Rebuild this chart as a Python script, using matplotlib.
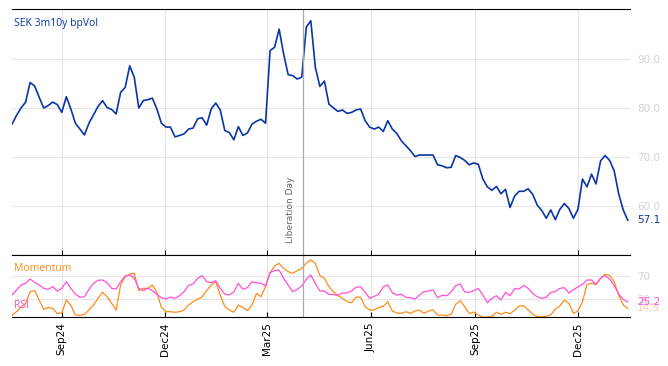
import pandas as pd
import matplotlib
matplotlib.use("Agg")
import matplotlib.pyplot as plt
import matplotlib.dates as mdates

# one reading every 4 days
dates = pd.date_range("2024-07-19", periods=137, freq="4D")

bpvol = [
    76.7, 78.5, 80.0, 81.2, 85.2, 84.5, 82.2, 80.0, 80.5, 81.2,
    80.7, 79.1, 82.3, 79.8, 76.9, 75.7, 74.5, 76.9, 78.6, 80.3,
    81.5, 80.1, 79.7, 78.8, 83.2, 84.2, 88.6, 86.3, 80.0, 81.5,
    81.7, 82.0, 79.8, 76.9, 76.1, 76.1, 74.1, 74.4, 74.7, 75.7,
    75.9, 77.8, 78.0, 76.5, 79.8, 81.0, 79.6, 75.4, 75.0, 73.5,
    76.2, 74.4, 74.9, 76.7, 77.3, 77.7, 76.9, 91.7, 92.4, 96.1,
    91.0, 86.8, 86.6, 85.9, 86.3, 96.5, 97.8, 88.3, 84.4, 85.5,
    80.8, 80.0, 79.3, 79.6, 78.9, 79.1, 79.6, 79.8, 77.4, 76.1,
    75.7, 76.1, 75.2, 77.4, 75.7, 74.8, 73.3, 72.3, 71.3, 70.1,
    70.4, 70.4, 70.4, 70.4, 68.4, 68.2, 67.8, 67.9, 70.3, 69.9,
    69.3, 68.4, 68.8, 68.5, 65.5, 63.9, 63.2, 64.0, 62.5, 63.4,
    59.7, 62.0, 63.0, 63.0, 63.5, 62.4, 60.2, 59.1, 57.5, 59.2,
    57.2, 59.3, 60.5, 59.5, 57.5, 59.3, 65.5, 63.9, 66.5, 64.5,
    69.2, 70.3, 69.3, 67.2, 62.5, 59.2, 57.1,
]

momentum = [
    3.0, 9.0, 17.0, 23.0, 43.0, 44.6, 28.8, 13.0, 16.0, 14.6,
    6.0, 7.0, 28.8, 20.0, 3.3, 2.8, 4.5, 11.8, 20.3, 31.6,
    41.8, 34.4, 23.1, 11.8, 54.2, 68.3, 72.8, 74.0, 44.6, 48.5,
    48.5, 54.2, 41.2, 16.3, 9.0, 9.0, 8.0, 9.0, 11.8, 20.3,
    26.0, 30.0, 34.4, 44.6, 54.2, 59.8, 37.0, 17.5, 11.8, 8.0,
    20.3, 16.3, 10.7, 20.3, 40.0, 34.4, 51.4, 75.0, 86.4, 90.9,
    82.4, 76.8, 74.0, 78.5, 82.4, 90.9, 96.6, 90.9, 70.0, 65.5,
    51.4, 42.9, 36.1, 31.6, 25.9, 24.2, 33.8, 33.3, 17.5, 11.8,
    11.8, 16.3, 18.0, 25.9, 10.1, 6.7, 6.2, 9.0, 6.2, 10.1,
    11.8, 6.2, 10.1, 11.8, 3.3, 3.3, 2.2, 4.5, 21.4, 27.6,
    17.5, 5.6, 8.4, 3.3, 0.0, 0.0, 1.0, 8.0, 4.5, 8.0,
    5.6, 11.2, 18.6, 19.2, 11.8, 4.5, 1.0, 0.5, 1.0, 3.3,
    13.5, 18.6, 28.8, 23.1, 6.2, 10.1, 25.9, 55.3, 57.0, 55.3,
    65.5, 72.3, 70.6, 59.8, 37.2, 20.3, 14.5,
]

rsi = [
    37.2, 45.7, 54.2, 57.0, 64.4, 58.7, 54.2, 48.5, 46.8, 51.4,
    44.0, 48.5, 59.8, 48.5, 38.9, 33.3, 34.4, 46.8, 57.0, 62.1,
    62.7, 58.1, 48.5, 47.4, 59.8, 69.4, 71.1, 65.5, 48.5, 44.6,
    48.5, 44.6, 38.4, 32.7, 30.5, 33.8, 31.6, 36.1, 42.9, 53.6,
    55.9, 65.5, 70.0, 59.8, 58.1, 61.5, 48.5, 38.9, 37.2, 42.3,
    57.0, 46.8, 49.7, 59.8, 58.1, 57.0, 52.5, 75.0, 78.5, 79.6,
    65.5, 54.2, 42.9, 46.8, 52.5, 63.8, 71.1, 57.0, 44.0, 44.0,
    38.4, 37.8, 36.7, 40.6, 40.6, 44.0, 50.2, 51.4, 41.8, 31.6,
    35.0, 38.4, 51.4, 54.2, 41.2, 37.2, 38.4, 33.3, 32.7, 30.5,
    37.2, 42.9, 44.0, 45.7, 32.7, 36.7, 36.1, 42.3, 53.0, 55.9,
    42.3, 41.8, 44.6, 48.5, 37.2, 24.2, 31.6, 36.1, 28.8, 41.8,
    36.1, 48.0, 47.4, 53.6, 48.5, 40.0, 34.4, 31.6, 33.3, 41.8,
    42.9, 48.5, 49.7, 40.6, 46.3, 50.8, 55.3, 62.7, 62.7, 55.3,
    65.5, 70.0, 64.4, 53.0, 38.9, 29.9, 25.2,
]

event_date = pd.Timestamp("2025-04-02")
event_label = "Liberation Day"

blue = "#0a35a5"
orange = "#ff8c1a"
pink = "#ff4fd8"
grid_col = "#e6e6e6"
tick_col = "#d3d3d3"

fig = plt.figure(figsize=(6.68, 3.66), dpi=100)
ax = fig.add_axes([12 / 668, 1 - 255 / 366, 618 / 668, 246 / 366])
ax2 = fig.add_axes([12 / 668, 1 - 317 / 366, 618 / 668, 62 / 366], sharex=ax)

ax.plot(dates, bpvol, color=blue, lw=1.2)
ax2.plot(dates, momentum, color=orange, lw=0.9)
ax2.plot(dates, rsi, color=pink, lw=0.9)

for a in (ax, ax2):
    a.set_xlim(pd.Timestamp("2024-07-19"), pd.Timestamp("2026-01-16"))
    a.xaxis.set_major_locator(mdates.MonthLocator(bymonth=[3, 6, 9, 12]))
    a.xaxis.set_major_formatter(mdates.DateFormatter("%b%y"))
    a.grid(True, color=grid_col, lw=0.8)
    a.set_axisbelow(True)
    a.yaxis.tick_right()
    a.tick_params(axis="y", length=0, colors=tick_col, labelsize=7.5, pad=5)
    a.tick_params(axis="x", direction="in", length=3.5, width=0.8)
    a.spines["left"].set_visible(False)
    a.spines["right"].set_visible(False)
    a.axvline(event_date, color="#aaaaaa", lw=0.9)

ax.set_ylim(50, 100.2)
ax.set_yticks([60, 70, 80, 90])
ax.set_yticklabels(["60.0", "70.0", "80.0", "90.0"])
ax.tick_params(axis="x", labelbottom=False)

ax2.set_ylim(0, 105)
ax2.set_yticks([30, 70])
ax2.tick_params(axis="x", labelsize=7.5, labelrotation=90, pad=4)

ax.text(0.003, 0.94, "SEK 3m10y bpVol", transform=ax.transAxes, color=blue,
        fontsize=7.5, family="Open Sans", va="center")
ax2.text(0.003, 0.78, "Momentum", transform=ax2.transAxes, color=orange,
         fontsize=7.5, family="Open Sans", va="center")
ax2.text(0.003, 0.18, "RSI", transform=ax2.transAxes, color=pink,
         fontsize=7.5, family="Open Sans", va="center")

ax.annotate(event_label, xy=(event_date, 52.4), xytext=(-6, 0),
            textcoords="offset points", rotation=90, ha="right", va="bottom",
            fontsize=6.5, color="#666666")

# last values on the right-hand side
ax.annotate(f"{bpvol[-1]:.1f}", xy=(1, bpvol[-1]), xycoords=("axes fraction", "data"),
            xytext=(5, 0), textcoords="offset points", color=blue, fontsize=7.5,
            va="center")
ax2.annotate(f"{momentum[-1]:.1f}", xy=(1, momentum[-1]), xycoords=("axes fraction", "data"),
             xytext=(5, 0), textcoords="offset points", color=orange, alpha=0.4,
             fontsize=7.5, va="center")
ax2.annotate(f"{rsi[-1]:.1f}", xy=(1, rsi[-1]), xycoords=("axes fraction", "data"),
             xytext=(5, 0), textcoords="offset points", color=pink, fontsize=7.5,
             va="center")

fig.savefig("out.png", dpi=100)
